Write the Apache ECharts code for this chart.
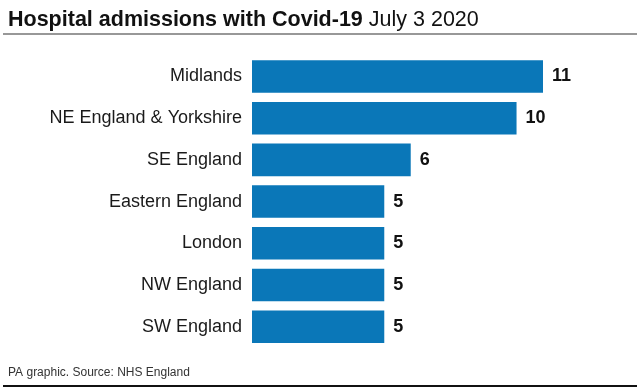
<!DOCTYPE html>
<html>
<head>
<meta charset="utf-8">
<script src="https://cdn.jsdelivr.net/npm/echarts@6/dist/echarts.min.js"></script>
<style>html,body{margin:0;padding:0;background:#fff}#c{width:640px;height:389px}</style>
</head>
<body>
<div id="c"></div>
<script>
const categories = ["Midlands", "NE England & Yorkshire", "SE England", "Eastern England", "London", "NW England", "SW England"];
const admissions = [11, 10, 6, 5, 5, 5, 5];
const titleBold = "Hospital admissions with Covid-19";
const titleDate = " July 3 2020";
const footer = "PA graphic. Source: NHS England";

const chart = echarts.init(document.getElementById('c'), null, {renderer: 'canvas'});
const FONT = '"Liberation Sans", Arial, sans-serif';
chart.setOption({
  backgroundColor: '#fff',
  animation: false,
  grid: {left: 252, top: 55.6, width: 291, height: 292, containLabel: false},
  xAxis: {type: 'value', min: 0, max: 11, show: false},
  yAxis: {
    type: 'category', data: categories, inverse: true,
    axisLine: {show: false}, axisTick: {show: false}, splitLine: {show: false},
    axisLabel: {margin: 10, fontSize: 18, color: '#1a1a1a', fontFamily: FONT}
  },
  series: [{
    type: 'bar', data: admissions, barWidth: '78%',
    itemStyle: {color: '#0a77b8'},
    label: {show: true, position: 'right', distance: 9, fontSize: 18, fontWeight: 'bold', color: '#111', fontFamily: FONT}
  }],
  graphic: [
    {type: 'text', left: 8, top: 9, style: {
      text: '{b|' + titleBold + '}{r|' + titleDate + '}',
      rich: {
        b: {fontSize: 21.5, fontWeight: 'bold', fill: '#111', fontFamily: FONT},
        r: {fontSize: 21.5, fill: '#111', fontFamily: FONT}
      }
    }},
    {type: 'line', shape: {x1: 3, y1: 34, x2: 637, y2: 34}, style: {stroke: '#333', lineWidth: 1.2}},
    {type: 'text', left: 8, top: 367, style: {text: footer, fontSize: 12, fill: '#333', fontFamily: FONT}},
    {type: 'line', shape: {x1: 3, y1: 386, x2: 637, y2: 386}, style: {stroke: '#111', lineWidth: 2}}
  ]
});
</script>
</body>
</html>
